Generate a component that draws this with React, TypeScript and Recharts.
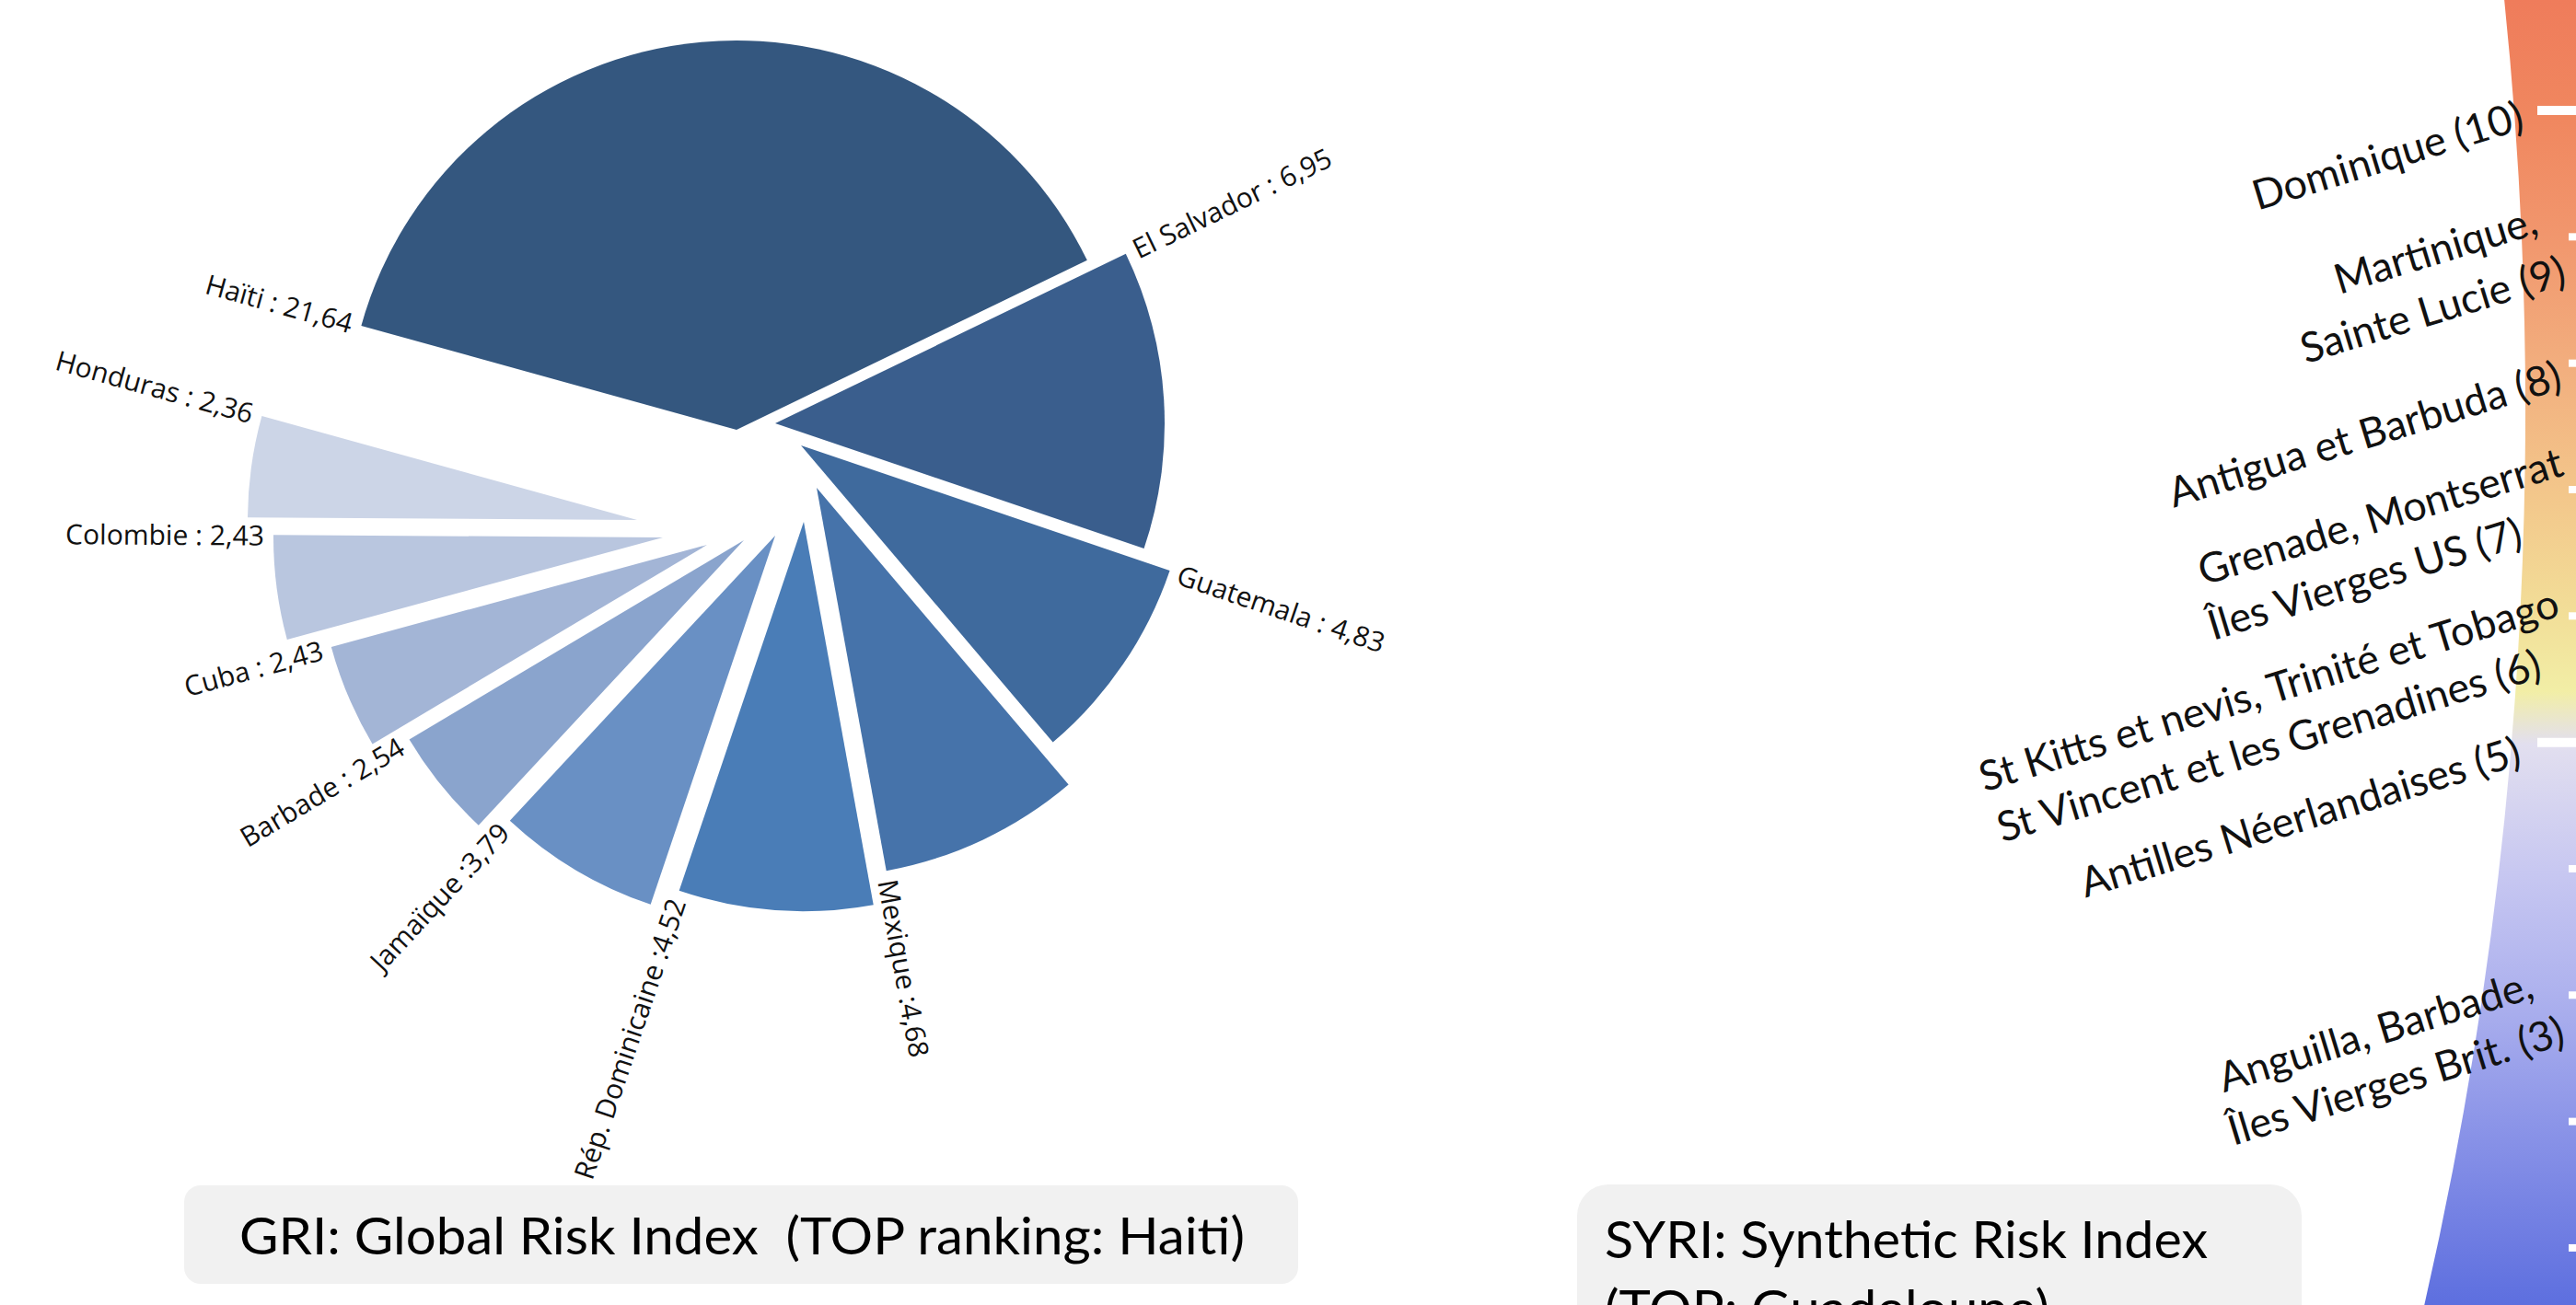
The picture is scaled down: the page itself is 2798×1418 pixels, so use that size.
import React from "react";
import { PieChart, Pie, Sector, ComposedChart, XAxis, YAxis, Scatter } from "recharts";

const W = 2798;
const H = 1418;

// ---------- GRI data (left pie) ----------
const griCountries = [
  "Haïti",
  "El Salvador",
  "Guatemala",
  "Mexique",
  "Rép. Dominicaine",
  "Jamaïque",
  "Barbade",
  "Cuba",
  "Colombie",
  "Honduras",
];
const griValues = [21.64, 6.95, 4.83, 4.68, 4.52, 3.79, 2.54, 2.43, 2.43, 2.36];
const griSeparators = [" : ", " : ", " : ", " :", " :", " :", " : ", " : ", " : ", " : "];
const griColors = [
  "#34577F",
  "#3A5E8D",
  "#3F6A9D",
  "#4673AA",
  "#4A7DB7",
  "#6990C4",
  "#8AA4CD",
  "#A3B5D6",
  "#B9C6DF",
  "#CCD5E7",
];

// ---------- SYRI scale (right) ----------
const syriLevels = [10, 9, 8, 7, 6, 5, 4, 3, 2, 1];
const syriMajorLevels = [10, 5];
const syriLabelLevels = [10, 9, 8, 7, 6, 5, 3];
const syriLabelLines = [
  ["Dominique (10)"],
  ["Martinique,", "Sainte Lucie (9)"],
  ["Antigua et Barbuda (8)"],
  ["Grenade, Montserrat", "Îles Vierges US (7)"],
  ["St Kitts et nevis, Trinité et Tobago", "St Vincent et les Grenadines (6)"],
  ["Antilles Néerlandaises (5)"],
  ["Anguilla, Barbade,", "Îles Vierges Brit. (3)"],
];
const syriScale = [{ name: "SYRI", value: 1 }];

const griTitle = "GRI: Global Risk Index  (TOP ranking: Haiti)";
const syriTitle = ["SYRI: Synthetic Risk Index", "(TOP: Guadeloupe)"];

// ---------- layout / style constants ----------
const PIE_CX = 810;
const PIE_CY = 540;
const PIE_R = 423;
// explode offsets of each slice apex (layout only)
const sliceShift = [
  [-10, -73],
  [32, -80],
  [60, -56],
  [77, -10],
  [63, 27],
  [32, 42],
  [-2, 47],
  [-42, 52],
  [-90, 44],
  [-118, 25],
];
const labelAtStart = [true, true, true, false, false, false, false, false, false, false];

// label line placement relative to tick: [x, dy]
const syriLabelPos = [
  [[2593, 48]],
  [[2645, 13], [2642, 78]],
  [[2568, 76]],
  [[2585, 28], [2568, 96]],
  [[2464, 79], [2464, 140]],
  [[2498, 80]],
  [[2580, 38], [2602, 92]],
];

const griData = griCountries.map((name, idx) => ({ name, value: griValues[idx], idx }));
const syriData = syriLevels.map((level) => ({ pos: 1, level }));

const fmt = (v: number) => v.toFixed(2).replace(".", ",");

const renderSlice = (props: any) => {
  const { cx, cy, startAngle, endAngle } = props;
  const idx = props.payload?.idx ?? props.idx ?? 0;
  const [dx, dy] = sliceShift[idx];
  const ax = cx + dx;
  const ay = cy + dy;
  const edge = labelAtStart[idx] ? startAngle : endAngle;
  const rad = (-edge * Math.PI) / 180;
  const lr = PIE_R + 10;
  const lx = ax + lr * Math.cos(rad);
  const ly = ay + lr * Math.sin(rad);
  const right = Math.cos(rad) > 0;
  const rot = right ? -edge : 180 - edge;
  const label = `${griCountries[idx]}${griSeparators[idx]}${fmt(griValues[idx])}`;
  return (
    <g>
      <Sector
        cx={ax}
        cy={ay}
        innerRadius={0}
        outerRadius={PIE_R}
        startAngle={startAngle}
        endAngle={endAngle}
        fill={griColors[idx]}
        stroke="none"
      />
      <text
        x={lx}
        y={ly}
        transform={`rotate(${rot} ${lx} ${ly})`}
        textAnchor={right ? "start" : "end"}
        dominantBaseline="central"
        fontFamily="'Open Sans', 'DejaVu Sans', sans-serif"
        fontSize={30}
        fill="#111"
      >
        {label}
      </text>
    </g>
  );
};

const SyriTick = (props: any) => {
  const { y, payload } = props;
  const v = payload?.value;
  const li = syriLabelLevels.indexOf(v);
  if (li < 0) return <g />;
  return (
    <g>
      {syriLabelLines[li].map((line, k) => {
        const [x, dy] = syriLabelPos[li][k];
        const ty = y + dy;
        return (
          <text
            key={k}
            x={x}
            y={ty}
            transform={`rotate(-17 ${x} ${ty})`}
            textAnchor="middle"
            dominantBaseline="central"
            fontFamily="Lato, 'Open Sans', sans-serif"
            fontSize={45}
            fill="#111"
          >
            {line}
          </text>
        );
      })}
    </g>
  );
};

const TickMark = (props: any) => {
  const { cx, cy, payload } = props;
  const major = syriMajorLevels.includes(payload?.level);
  const len = major ? 41 : 7;
  return <line x1={cx - len} y1={cy} x2={cx + 2} y2={cy} stroke="#fff" strokeWidth={major ? 10 : 8} />;
};

export default function App() {
  return (
    <div style={{ position: "absolute", left: 0, top: 0, width: W, height: H, background: "#fff", overflow: "hidden" }}>
      <svg width={0} height={0} style={{ position: "absolute" }}>
        <defs>
          <linearGradient id="syriGrad" gradientUnits="userSpaceOnUse" x1={0} y1={0} x2={0} y2={H}>
            <stop offset="0" stopColor="#EF7C5B" />
            <stop offset="0.09" stopColor="#F0875F" />
            <stop offset="0.18" stopColor="#F1966D" />
            <stop offset="0.28" stopColor="#F2AE7E" />
            <stop offset="0.38" stopColor="#F3C78B" />
            <stop offset="0.47" stopColor="#F2DE98" />
            <stop offset="0.53" stopColor="#F2EEA6" />
            <stop offset="0.57" stopColor="#E2DFEF" />
            <stop offset="0.67" stopColor="#C7C7F1" />
            <stop offset="0.76" stopColor="#AEB2EE" />
            <stop offset="0.86" stopColor="#8C95E8" />
            <stop offset="0.95" stopColor="#6E7CE2" />
            <stop offset="1" stopColor="#5D6FDF" />
          </linearGradient>
        </defs>
      </svg>

      <div style={{ position: "absolute", left: 0, top: 0 }}>
        <PieChart width={W} height={H} margin={{ top: 0, right: 0, bottom: 0, left: 0 }}>
          <Pie
            data={syriScale}
            dataKey="value"
            cx={-1616}
            cy={446}
            innerRadius={4359}
            outerRadius={4900}
            startAngle={8}
            endAngle={-15}
            fill="url(#syriGrad)"
            stroke="none"
            isAnimationActive={false}
          />
          <Pie
            data={griData}
            dataKey="value"
            nameKey="name"
            cx={PIE_CX}
            cy={PIE_CY}
            innerRadius={0}
            outerRadius={PIE_R}
            startAngle={164.5}
            endAngle={-195.5}
            stroke="none"
            shape={renderSlice}
            isAnimationActive={false}
          />
        </PieChart>
      </div>

      <div style={{ position: "absolute", left: 0, top: 0 }}>
        <ComposedChart width={W} height={H} data={syriData} margin={{ top: 0, right: 0, bottom: 0, left: 0 }}>
          <XAxis type="number" dataKey="pos" domain={[0, 1]} hide height={0} />
          <YAxis
            type="number"
            dataKey="level"
            orientation="right"
            domain={[0.548, 10.874]}
            ticks={syriLevels}
            interval={0}
            allowDataOverflow
            width={1}
            axisLine={false}
            tickLine={false}
            tick={<SyriTick />}
          />
          <Scatter data={syriData} dataKey="level" shape={<TickMark />} isAnimationActive={false} />
        </ComposedChart>
      </div>

      <svg width={W} height={H} style={{ position: "absolute", left: 0, top: 0, pointerEvents: "none" }}>
        <rect x={200} y={1288} width={1210} height={107} rx={18} fill="#F1F1F1" />
        <text
          x={260}
          y={1363}
          fontFamily="Lato, 'Open Sans', sans-serif"
          fontSize={56}
          fill="#000"
          textLength={1092}
          lengthAdjust="spacingAndGlyphs"
          xmlSpace="preserve"
          style={{ whiteSpace: "pre" }}
        >
          {griTitle}
        </text>
        <rect x={1713} y={1287} width={787} height={200} rx={34} fill="#F1F1F1" />
        <text
          x={1743}
          y={1367}
          fontFamily="Lato, 'Open Sans', sans-serif"
          fontSize={56}
          fill="#000"
          textLength={655}
          lengthAdjust="spacingAndGlyphs"
        >
          {syriTitle[0]}
        </text>
        <text
          x={1743}
          y={1442}
          fontFamily="Lato, 'Open Sans', sans-serif"
          fontSize={56}
          fill="#000"
          textLength={483}
          lengthAdjust="spacingAndGlyphs"
        >
          {syriTitle[1]}
        </text>
      </svg>
    </div>
  );
}
